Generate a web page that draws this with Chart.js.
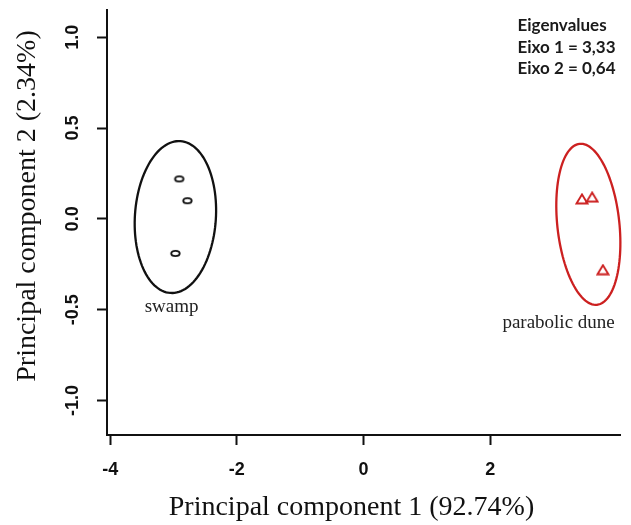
<!DOCTYPE html>
<html>
<head>
<meta charset="utf-8">
<title>PCA</title>
<script src="https://cdn.jsdelivr.net/npm/chart.js@4.4.0/dist/chart.umd.min.js"></script>
<style>
	body { margin: 0; background: #fff; }
	canvas { display: block; }
</style>
</head>
<body>
<canvas id="graficoPca" width="631" height="525"></canvas>
<script>
// scores
var swampX = [-2.91, -2.78, -2.97];
var swampY = [0.22, 0.10, -0.19];
var duneX = [3.45, 3.61, 3.78];
var duneY = [0.11, 0.12, -0.28];

var xTicks = [-4, -2, 0, 2];
var yTicks = [-1.0, -0.5, 0.0, 0.5, 1.0];

var groupLabels = ['swamp', 'parabolic dune'];
var groupLabelX = [-3.03, 3.08];
var groupLabelY = [-0.486, -0.574];

// ellipses: centre + half axes, in data units
var ellipseCx = [-2.97, 3.55];
var ellipseCy = [0.01, -0.03];
var ellipseMajor = [[0.079, 0.418], [-0.137, 0.443]];
var ellipseMinor = [[0.638, -0.015], [0.487, 0.018]];

var eigenLines = ['Eigenvalues', 'Eixo 1 = 3,33', 'Eixo 2 = 0,64'];
var axisTitleX = 'Principal component 1 (92.74%)';
var axisTitleY = 'Principal component 2 (2.34%)';

var PRETO = '#111111';
var VERMELHO = '#cc2020';
var groupColors = [PRETO, VERMELHO];

var Pca = Pca || {};

Pca.Grafico = (function() {

	function Grafico() {
		this.ctx = document.getElementById('graficoPca').getContext('2d');
	}

	function marcadorCirculo() {
		var c = document.createElement('canvas');
		c.width = 13;
		c.height = 9;
		var g = c.getContext('2d');
		g.strokeStyle = PRETO;
		g.lineWidth = 1.9;
		g.beginPath();
		g.ellipse(6.5, 4.5, 4.2, 2.6, 0, 0, Math.PI * 2);
		g.stroke();
		return c;
	}

	function marcadorTriangulo() {
		var c = document.createElement('canvas');
		c.width = 14;
		c.height = 12;
		var g = c.getContext('2d');
		g.strokeStyle = VERMELHO;
		g.lineWidth = 1.9;
		g.lineJoin = 'miter';
		g.beginPath();
		g.moveTo(7, 1.5);
		g.lineTo(12.5, 10.5);
		g.lineTo(1.5, 10.5);
		g.closePath();
		g.stroke();
		return c;
	}

	function pontos(xs, ys) {
		return xs.map(function(x, i) {
			return { x: x, y: ys[i] };
		});
	}

	var desenhoExtra = {
		id: 'desenhoExtra',
		afterDatasetsDraw: function(chart) {
			var ctx = chart.ctx;
			var sx = chart.scales.x;
			var sy = chart.scales.y;
			ctx.save();

			// group ellipses
			for (var i = 0; i < ellipseCx.length; i++) {
				ctx.beginPath();
				for (var k = 0; k <= 120; k++) {
					var t = k / 120 * 2 * Math.PI;
					var vx = ellipseCx[i] + Math.cos(t) * ellipseMinor[i][0] + Math.sin(t) * ellipseMajor[i][0];
					var vy = ellipseCy[i] + Math.cos(t) * ellipseMinor[i][1] + Math.sin(t) * ellipseMajor[i][1];
					var px = sx.getPixelForValue(vx);
					var py = sy.getPixelForValue(vy);
					if (k === 0) ctx.moveTo(px, py); else ctx.lineTo(px, py);
				}
				ctx.closePath();
				ctx.strokeStyle = groupColors[i];
				ctx.lineWidth = 2.3;
				ctx.stroke();
			}

			// group names
			ctx.fillStyle = '#222';
			ctx.font = '19px "Liberation Serif"';
			ctx.textAlign = 'center';
			ctx.textBaseline = 'middle';
			groupLabels.forEach(function(txt, j) {
				ctx.fillText(txt, sx.getPixelForValue(groupLabelX[j]), sy.getPixelForValue(groupLabelY[j]));
			});

			// eigenvalues box
			ctx.fillStyle = '#1a1a1a';
			ctx.font = 'bold 17px Lato';
			ctx.textAlign = 'left';
			ctx.textBaseline = 'alphabetic';
			eigenLines.forEach(function(txt, j) {
				ctx.fillText(txt, 517.5, 31 + j * 21.5);
			});

			// axis titles
			ctx.fillStyle = '#111';
			ctx.font = '28px "Liberation Serif"';
			ctx.textAlign = 'center';
			ctx.textBaseline = 'middle';
			ctx.fillText(axisTitleX, 351.5, 508);
			ctx.translate(28, 206);
			ctx.rotate(-Math.PI / 2);
			ctx.fillText(axisTitleY, 0, 0);

			ctx.restore();
		}
	};

	Grafico.prototype.iniciar = function() {
		var fonteTicks = { family: 'Liberation Sans', size: 18, weight: 'bold' };

		new Chart(this.ctx, {
			type: 'scatter',
			data: {
				datasets: [{
					label: groupLabels[0],
					data: pontos(swampX, swampY),
					pointStyle: marcadorCirculo(),
					pointRadius: 5
				}, {
					label: groupLabels[1],
					data: pontos(duneX, duneY),
					pointStyle: marcadorTriangulo(),
					pointRadius: 6
				}]
			},
			options: {
				responsive: false,
				animation: false,
				layout: { padding: { left: 0, right: 11, top: 10, bottom: 0 } },
				plugins: {
					legend: { display: false },
					tooltip: { enabled: false }
				},
				scales: {
					x: {
						type: 'linear',
						min: -4.05,
						max: 4.05,
						afterBuildTicks: function(s) {
							s.ticks = xTicks.map(function(v) { return { value: v }; });
						},
						afterFit: function(s) {
							s.height = 90;
							s.paddingLeft = 0;
							s.paddingRight = 0;
						},
						grid: { drawOnChartArea: false, drawTicks: true, tickLength: 10, tickColor: PRETO, tickWidth: 2 },
						border: { display: true, color: PRETO, width: 2 },
						ticks: {
							font: fonteTicks,
							color: PRETO,
							padding: 14,
							autoSkip: false,
							maxRotation: 0,
							callback: function(v) { return String(v); }
						}
					},
					y: {
						type: 'linear',
						min: -1.19,
						max: 1.15,
						afterBuildTicks: function(s) {
							s.ticks = yTicks.map(function(v) { return { value: v }; });
						},
						afterFit: function(s) {
							s.width = 107;
							s.paddingTop = 0;
							s.paddingBottom = 0;
						},
						grid: { drawOnChartArea: false, drawTicks: true, tickLength: 10, tickColor: PRETO, tickWidth: 2 },
						border: { display: true, color: PRETO, width: 2 },
						ticks: {
							font: fonteTicks,
							color: PRETO,
							padding: 8,
							autoSkip: false,
							minRotation: 90,
							maxRotation: 90,
							crossAlign: 'center',
							callback: function(v) { return v.toFixed(1); }
						}
					}
				}
			},
			plugins: [desenhoExtra]
		});
	};

	return Grafico;

}());

var graficoPca = new Pca.Grafico();
graficoPca.iniciar();
</script>
</body>
</html>
